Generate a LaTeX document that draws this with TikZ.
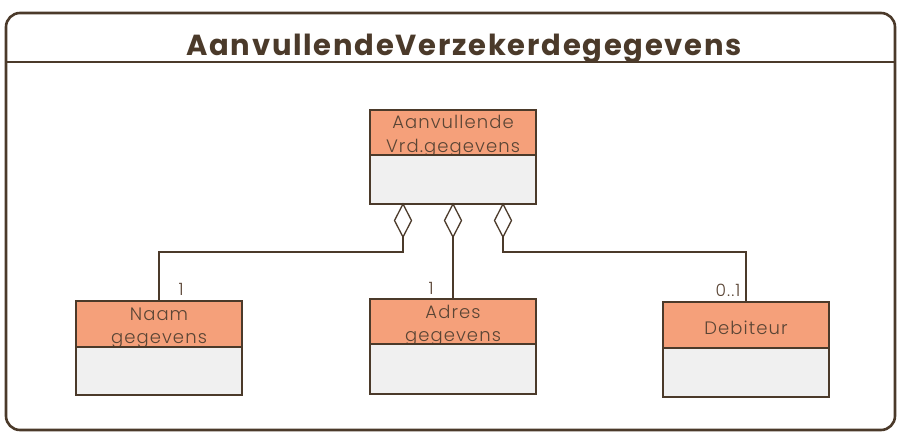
\documentclass[tikz,border=0pt]{standalone}
\usepackage{fontspec}
\setmainfont{Poppins}
\newfontfamily\lightfont{Poppins}[UprightFont=* Light, LetterSpace=6]
\newfontfamily\titlefont{Poppins}[UprightFont=* Bold, LetterSpace=6]
\usetikzlibrary{shapes.geometric}
\definecolor{brd}{HTML}{4B3A2A}
\definecolor{txt}{HTML}{5A4535}
\definecolor{hdr}{HTML}{F5A07A}
\definecolor{bdy}{HTML}{F0F0F0}
\tikzset{
  hdrbox/.style={draw=brd, fill=hdr, line width=1.6pt, minimum width=166pt, inner sep=0pt, outer sep=0pt},
  bdybox/.style={draw=brd, fill=bdy, line width=1.6pt, minimum width=166pt, inner sep=0pt, outer sep=0pt},
  clstext/.style={text=txt, font=\lightfont\fontsize{18}{24}\selectfont, anchor=base, inner sep=0pt},
  multtext/.style={text=txt, font=\lightfont\fontsize{17}{18}\selectfont, anchor=base, inner sep=0pt},
  agg/.style={diamond, draw=brd, fill=white, line width=1.3pt, minimum width=17pt, minimum height=33pt, inner sep=0pt, outer sep=0pt},
  conn/.style={draw=brd, line width=1.3pt},
}
\begin{document}
\begin{tikzpicture}[x=1pt,y=-1pt]
\useasboundingbox (0,0) rectangle (898,432);
% frame
\draw[draw=brd, fill=white, line width=2.6pt, rounded corners=14pt] (6,13) rectangle (895,430);
\draw[draw=brd, line width=2.6pt] (6,62) -- (895,62);
\node[text=brd, font=\titlefont\fontsize{29}{30}\selectfont, anchor=base] (title) at (464,55) {AanvullendeVerzekerdegegevens};

% top class
\node[hdrbox, minimum height=45pt] (topH) at (453,132.5) {};
\node[clstext] (topT1) at (453,128) {Aanvullende};
\node[clstext] (topT2) at (453,152) {Vrd.gegevens};
\node[bdybox, minimum height=49pt] (topB) at (453,179.5) {};

% Naam
\node[hdrbox, minimum height=46pt] (naamH) at (159,324) {};
\node[clstext] (naamT1) at (159,320) {Naam};
\node[clstext] (naamT2) at (159,343) {gegevens};
\node[bdybox, minimum height=48pt] (naamB) at (159,371) {};

% Adres
\node[hdrbox, minimum height=45pt] (adresH) at (453,321.5) {};
\node[clstext] (adresT1) at (453,318) {Adres};
\node[clstext] (adresT2) at (453,341) {gegevens};
\node[bdybox, minimum height=50pt] (adresB) at (453,369) {};

% Debiteur
\node[hdrbox, minimum height=46pt] (debH) at (746,325) {};
\node[clstext] (debT) at (746,334) {Debiteur};
\node[bdybox, minimum height=49pt] (debB) at (746,372.5) {};

% aggregation diamonds
\node[agg, anchor=north] (d1) at (403,204) {};
\node[agg, anchor=north] (d2) at (453,204) {};
\node[agg, anchor=north] (d3) at (503,204) {};

\coordinate (b1) at (403,252);
\coordinate (b3) at (503,252);
\draw[conn] (d1.south) -- (b1) -| (naamH.north);
\draw[conn] (d2.south) -- (adresH.north);
\draw[conn] (d3.south) -- (b3) -| (debH.north);

% multiplicities
\node[multtext] (m1) at (181,295) {1};
\node[multtext] (m2) at (431,294) {1};
\node[multtext] (m3) at (728,296) {0..1};
\end{tikzpicture}
\end{document}
